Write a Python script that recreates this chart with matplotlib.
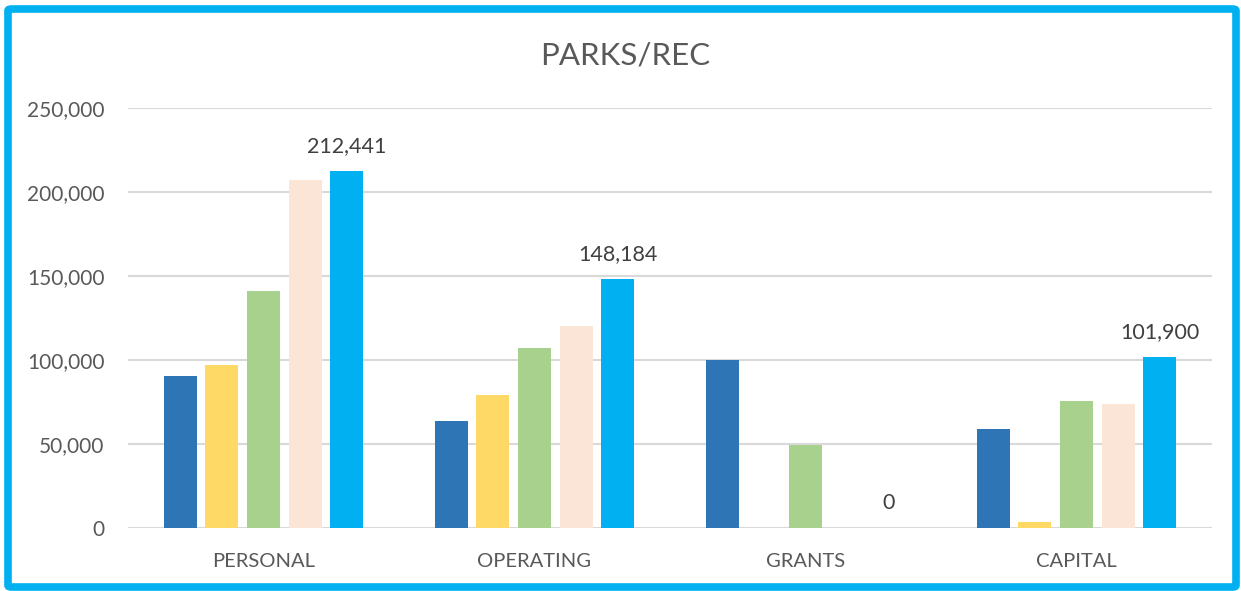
import numpy as np
import matplotlib.pyplot as plt
from matplotlib.patches import FancyBboxPatch

categories = ['PERSONAL', 'OPERATING', 'GRANTS', 'CAPITAL']
series_1 = [90700, 63700, 99800, 58700]
series_2 = [97000, 79000, 0, 3400]
series_3 = [141100, 107100, 49600, 75400]
series_4 = [207100, 120500, 0, 73600]
series_5 = [212441, 148184, 0, 101900]
y_ticks = [0, 50000, 100000, 150000, 200000, 250000]

colors = ['#2E75B6', '#FFD966', '#A9D18E', '#FBE5D6', '#00B0F0']
all_series = [series_1, series_2, series_3, series_4, series_5]

plt.rcParams['font.family'] = ['Lato', 'DejaVu Sans']

fig = plt.figure(figsize=(12.41, 5.91), dpi=100)
ax = fig.add_axes([128 / 1241, 1 - 528 / 591, 1084 / 1241, 420 / 591])

x = np.arange(len(categories))
pitch = 0.154
width = 0.122
for i, (vals, c) in enumerate(zip(all_series, colors)):
    bars = ax.bar(x + (i - 2) * pitch, vals, width, color=c, zorder=3)
    if i == 4:
        # подписи только для последней серии
        for b, v in zip(bars, vals):
            ax.annotate(f'{v:,}', (b.get_x() + b.get_width() / 2, v),
                        xytext=(0, 18), textcoords='offset points',
                        ha='center', va='center', fontsize=15.5, color='#404040')

ax.set_xlim(-0.5, 3.5)
ax.set_ylim(0, 250000)
ax.set_yticks(y_ticks)
ax.set_yticklabels([f'{t:,}' for t in y_ticks])
ax.set_xticks(x)
ax.set_xticklabels(categories)
ax.tick_params(axis='y', length=0, pad=17, labelsize=15, labelcolor='#595959')
ax.tick_params(axis='x', length=0, pad=18, labelsize=14.5, labelcolor='#595959')
ax.grid(axis='y', color='#D9D9D9', linewidth=1.5, zorder=0)
for s in ax.spines.values():
    s.set_visible(False)

fig.text(625 / 1241, 1 - 55 / 591, 'PARKS/REC', ha='center', va='center',
         fontsize=22.5, color='#595959')

# рамка вокруг графика
frame = FancyBboxPatch((8 / 1241, 4 / 591), 1228 / 1241, 578 / 591,
                       boxstyle='round,pad=0,rounding_size=0.003',
                       transform=fig.transFigure, fill=False,
                       edgecolor='#00B0F0', linewidth=5.5)
fig.patches.append(frame)

fig.savefig('out.png', dpi=100)
